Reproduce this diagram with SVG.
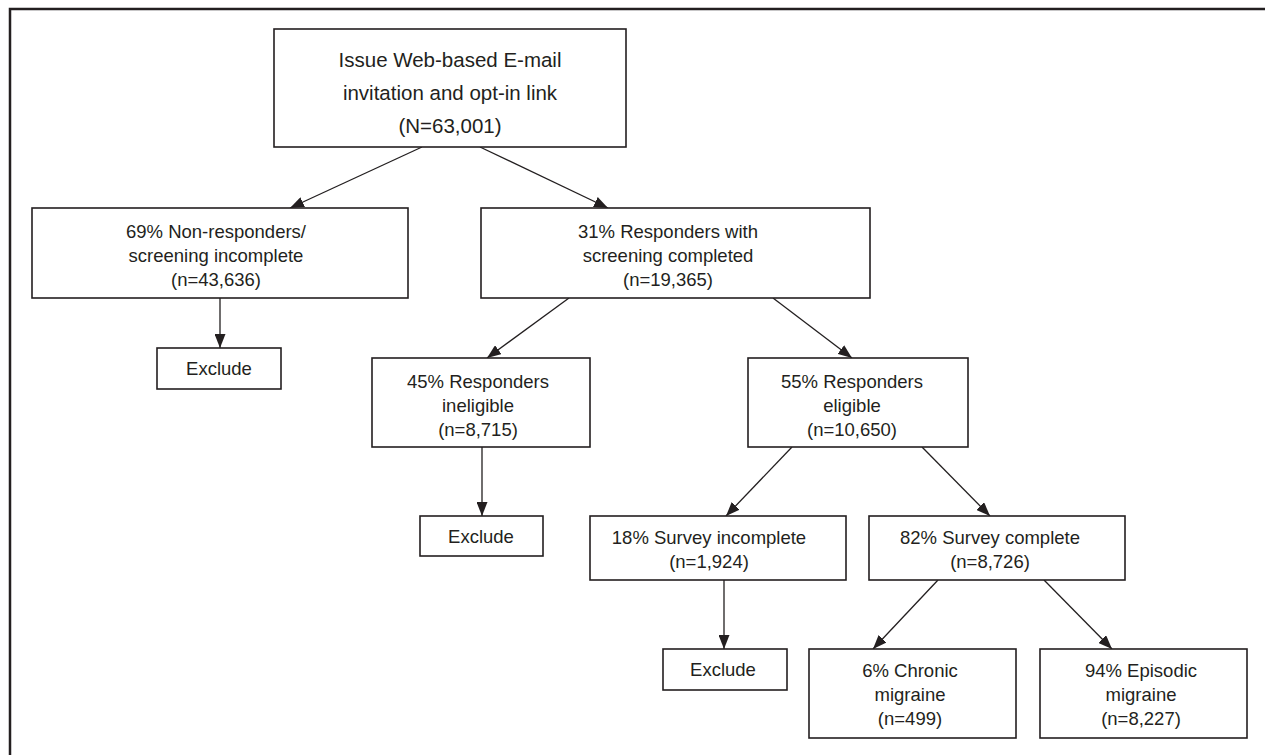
<svg xmlns="http://www.w3.org/2000/svg" width="1265" height="755" viewBox="0 0 1265 755">
<defs>
<style>
.box{fill:#fff;stroke:#231f20;stroke-width:1.6}
.t{font-family:"Liberation Sans",Arial,sans-serif;font-size:18.5px;fill:#231f20;text-anchor:middle}
.tt{font-size:20.5px}
.c{stroke:#231f20;stroke-width:1.3;fill:none;marker-end:url(#ah)}
.frame{stroke:#231f20;stroke-width:2.5;fill:none}
</style>
<marker id="ah" viewBox="0 0 14 11" refX="14" refY="5.5" markerWidth="14" markerHeight="11" markerUnits="userSpaceOnUse" orient="auto">
<path d="M0,0 L14,5.5 L0,11 Z" fill="#231f20"/>
</marker>
</defs>
<rect width="1265" height="755" fill="#fff"/>
<path class="frame" d="M10,755 L10,9 L1265,9"/>
<g id="connectors">
<line class="c" x1="422" y1="147" x2="290" y2="208"/>
<line class="c" x1="480" y1="147" x2="608" y2="208"/>
<line class="c" x1="220" y1="298" x2="220" y2="348"/>
<line class="c" x1="569" y1="298" x2="487" y2="358"/>
<line class="c" x1="773" y1="298" x2="852" y2="358"/>
<line class="c" x1="482" y1="447" x2="482" y2="516"/>
<line class="c" x1="792" y1="447" x2="726" y2="516"/>
<line class="c" x1="922" y1="447" x2="990" y2="516"/>
<line class="c" x1="724" y1="580" x2="724" y2="649"/>
<line class="c" x1="938" y1="580" x2="873" y2="649"/>
<line class="c" x1="1044" y1="580" x2="1112" y2="649"/>
</g>
<g id="n_top">
<rect class="box" x="274" y="29" width="352" height="118"/>
<text class="t tt" x="450" y="67">Issue Web-based E-mail</text>
<text class="t tt" x="450" y="100">invitation and opt-in link</text>
<text class="t tt" x="450" y="133">(N=63,001)</text>
</g>
<g id="n_nonresp">
<rect class="box" x="32" y="208" width="376" height="90"/>
<text class="t" x="216" y="238">69% Non-responders/</text>
<text class="t" x="216" y="262">screening incomplete</text>
<text class="t" x="216" y="286">(n=43,636)</text>
</g>
<g id="n_exclude1">
<rect class="box" x="157" y="348" width="124" height="41"/>
<text class="t" x="219" y="375">Exclude</text>
</g>
<g id="n_resp">
<rect class="box" x="481" y="208" width="389" height="90"/>
<text class="t" x="668" y="238">31% Responders with</text>
<text class="t" x="668" y="262">screening completed</text>
<text class="t" x="668" y="286">(n=19,365)</text>
</g>
<g id="n_inelig">
<rect class="box" x="372" y="358" width="218" height="89"/>
<text class="t" x="478" y="388">45% Responders</text>
<text class="t" x="478" y="412">ineligible</text>
<text class="t" x="478" y="436">(n=8,715)</text>
</g>
<g id="n_exclude2">
<rect class="box" x="420" y="516" width="123" height="40"/>
<text class="t" x="481" y="543">Exclude</text>
</g>
<g id="n_elig">
<rect class="box" x="748" y="358" width="220" height="89"/>
<text class="t" x="852" y="388">55% Responders</text>
<text class="t" x="852" y="412">eligible</text>
<text class="t" x="852" y="436">(n=10,650)</text>
</g>
<g id="n_incomplete">
<rect class="box" x="590" y="516" width="256" height="64"/>
<text class="t" x="709" y="544">18% Survey incomplete</text>
<text class="t" x="709" y="568">(n=1,924)</text>
</g>
<g id="n_complete">
<rect class="box" x="869" y="516" width="256" height="64"/>
<text class="t" x="990" y="544">82% Survey complete</text>
<text class="t" x="990" y="568">(n=8,726)</text>
</g>
<g id="n_exclude3">
<rect class="box" x="663" y="649" width="124" height="41"/>
<text class="t" x="723" y="676">Exclude</text>
</g>
<g id="n_chronic">
<rect class="box" x="809" y="649" width="207" height="89"/>
<text class="t" x="910" y="677">6% Chronic</text>
<text class="t" x="910" y="701">migraine</text>
<text class="t" x="910" y="725">(n=499)</text>
</g>
<g id="n_episodic">
<rect class="box" x="1040" y="649" width="207" height="89"/>
<text class="t" x="1141" y="677">94% Episodic</text>
<text class="t" x="1141" y="701">migraine</text>
<text class="t" x="1141" y="725">(n=8,227)</text>
</g>
</svg>
